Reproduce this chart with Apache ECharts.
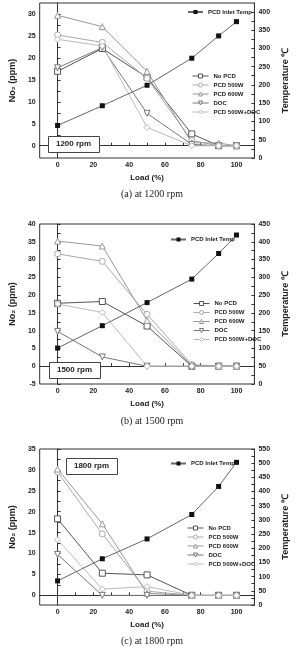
<!DOCTYPE html>
<html>
<head>
<meta charset="utf-8">
<script src="https://cdn.jsdelivr.net/npm/echarts@6/dist/echarts.min.js"></script>
<style>
html, body { margin: 0; padding: 0; background: #fff; }
#chart { width: 298px; height: 649px; }
</style>
</head>
<body>
<div id="chart"></div>
<script>
var loads = [0, 25, 50, 75, 90, 100];
var seriesNames = ['No PCD', 'PCD 500W', 'PCD 600W', 'DOC', 'PCD 500W+DOC'];
var tempName = 'PCD Inlet Temp';
var xLabels = [0, 20, 40, 60, 80, 100];

// (a) 1200 rpm
var noPcd1200 = [17, 22.2, 15.6, 2.7, 0, 0];
var pcd500w1200 = [25.3, 23.6, 15.4, 1.2, 0, 0];
var pcd600w1200 = [29.8, 27.2, 17, 0.7, 0.6, 0];
var doc1200 = [17.8, 22.4, 7.4, 0.3, 0, 0];
var pcdDoc1200 = [24.3, 22.8, 4.2, 0, 0, 0];
var temp1200 = [89, 143, 199, 273, 334, 373];

// (b) 1500 rpm
var noPcd1500 = [17.7, 18.2, 11.3, 0, 0, 0];
var pcd500w1500 = [31.6, 29.5, 14.6, 0.5, 0, 0];
var pcd600w1500 = [35.2, 33.8, 12.9, 0.2, 0, 0];
var doc1500 = [9.8, 2.6, 0, 0, 0, 0];
var pcdDoc1500 = [17.5, 15.1, 0, 0, 0, 0];
var temp1500 = [101, 164, 229, 295, 367, 419];

// (c) 1800 rpm
var noPcd1800 = [18.3, 5.3, 4.9, 0, 0, 0];
var pcd500w1800 = [29.5, 14.7, 1.0, 0, 0, 0];
var pcd600w1800 = [30.2, 17.1, 0.5, 0, 0, 0];
var doc1800 = [9.8, 0, 0, 0, 0, 0];
var pcdDoc1800 = [13.3, 1.5, 2.1, 0, 0, 0];
var temp1800 = [85, 163, 233, 319, 418, 503];

var no2Ticks1200 = [0, 5, 10, 15, 20, 25, 30];
var no2Ticks1500 = [-5, 0, 5, 10, 15, 20, 25, 30, 35, 40];
var no2Ticks1800 = [0, 5, 10, 15, 20, 25, 30, 35];
var tempTicks1200 = [0, 50, 100, 150, 200, 250, 300, 350, 400];
var tempTicks1500 = [0, 50, 100, 150, 200, 250, 300, 350, 400, 450];
var tempTicks1800 = [0, 50, 100, 150, 200, 250, 300, 350, 400, 450, 500, 550];

var panels = [
    {top: 3, height: 155, no2: [noPcd1200, pcd500w1200, pcd600w1200, doc1200, pcdDoc1200], temp: temp1200,
     yMin: -2.8, yMax: 32.6, yTicks: no2Ticks1200, tMax: 424, tTicks: tempTicks1200,
     caption: '(a) at 1200 rpm', capY: 194, rpm: '1200 rpm', box: [48, 136],
     tempLeg: [187, 9], leg: [192, 73]},
    {top: 224, height: 160, no2: [noPcd1500, pcd500w1500, pcd600w1500, doc1500, pcdDoc1500], temp: temp1500,
     yMin: -5, yMax: 40, yTicks: no2Ticks1500, tMax: 450, tTicks: tempTicks1500,
     caption: '(b) at 1500 rpm', capY: 421, rpm: '1500 rpm', box: [49, 362],
     tempLeg: [170, 236.5], leg: [193, 300.5]},
    {top: 449, height: 156, no2: [noPcd1800, pcd500w1800, pcd600w1800, doc1800, pcdDoc1800], temp: temp1800,
     yMin: -2.3, yMax: 35, yTicks: no2Ticks1800, tMax: 550, tTicks: tempTicks1800,
     caption: '(c) at 1800 rpm', capY: 641, rpm: '1800 rpm', box: [66, 458],
     tempLeg: [170, 460.5], leg: [187, 525]}
];

var colors = ['#555', '#aaa', '#999', '#777', '#bbb'];
var symbols = ['rect', 'circle', 'triangle', 'triangle', 'diamond'];
var rotates = [0, 0, 0, 180, 0];

var font = 'Liberation Sans';
var labelStyle = {fontSize: 7, fontWeight: 'bold', color: '#222', fontFamily: font};

function pairs(vals) {
    var out = [];
    for (var i = 0; i < loads.length; i++) out.push([loads[i], vals[i]]);
    return out;
}

function minorTicks(ticks, step) {
    var out = [];
    for (var i = 0; i < ticks.length; i++) {
        out.push(ticks[i]);
        if (i < ticks.length - 1) out.push(ticks[i] + step);
    }
    return out;
}

var option = {
    animation: false,
    backgroundColor: '#fff',
    grid: [], xAxis: [], yAxis: [], series: [], legend: [], graphic: []
};

panels.forEach(function (p, k) {
    option.grid.push({left: 38, right: 33, top: p.top, height: p.height,
        show: true, borderColor: '#333', borderWidth: 1});
    option.xAxis.push({
        type: 'value', gridIndex: k, min: -10, max: 110,
        name: 'Load (%)', nameLocation: 'middle', nameGap: 16,
        nameTextStyle: {fontSize: 8, fontWeight: 'bold', color: '#222', fontFamily: font},
        axisLine: {lineStyle: {color: '#333'}},
        axisTick: {inside: true, length: 3, lineStyle: {color: '#333'},
            customValues: [0, 10, 20, 30, 40, 50, 60, 70, 80, 90, 100]},
        axisLabel: Object.assign({margin: 4, customValues: xLabels}, labelStyle),
        splitLine: {show: false}
    });
    option.yAxis.push({
        type: 'value', gridIndex: k, min: p.yMin, max: p.yMax, position: 'left',
        name: 'No\u2082 (ppm)', nameLocation: 'middle', nameGap: 18,
        nameTextStyle: {fontSize: 9, fontWeight: 'bold', color: '#222', fontFamily: font},
        axisLine: {show: true, lineStyle: {color: '#333'}},
        axisTick: {inside: true, length: 3, lineStyle: {color: '#333'},
            customValues: minorTicks(p.yTicks, 2.5)},
        axisLabel: Object.assign({margin: 4, customValues: p.yTicks}, labelStyle),
        splitLine: {show: false}
    });
    option.yAxis.push({
        type: 'value', gridIndex: k, min: 0, max: p.tMax, position: 'right',
        name: 'Temperature \u2103', nameLocation: 'middle', nameGap: 20,
        nameTextStyle: {fontSize: 9, fontWeight: 'bold', color: '#222', fontFamily: font},
        axisLine: {show: true, lineStyle: {color: '#333'}},
        axisTick: {inside: true, length: 3, lineStyle: {color: '#333'},
            customValues: minorTicks(p.tTicks, 25)},
        axisLabel: Object.assign({margin: 4, customValues: p.tTicks}, labelStyle),
        splitLine: {show: false}
    });

    p.no2.forEach(function (vals, i) {
        option.series.push({
            name: seriesNames[i], type: 'line', xAxisIndex: k, yAxisIndex: 2 * k,
            data: pairs(vals), symbol: symbols[i], symbolRotate: rotates[i], symbolSize: 6,
            lineStyle: {color: colors[i], width: 1},
            itemStyle: {color: '#fff', borderColor: colors[i], borderWidth: 1}
        });
    });
    option.series.push({
        name: tempName, type: 'line', xAxisIndex: k, yAxisIndex: 2 * k + 1,
        data: pairs(p.temp), symbol: 'rect', symbolSize: 5, z: 3,
        lineStyle: {color: '#666', width: 1}, itemStyle: {color: '#111'}
    });

    option.legend.push({
        data: [tempName], left: p.tempLeg[0], top: p.tempLeg[1], padding: 0,
        itemWidth: 15, itemHeight: 5, itemGap: 2,
        textStyle: {fontSize: 6, fontWeight: 'bold', color: '#222', fontFamily: font}
    });
    option.legend.push({
        data: seriesNames, orient: 'vertical', left: p.leg[0], top: p.leg[1], padding: 0,
        itemWidth: 16, itemHeight: 5, itemGap: 3,
        itemStyle: {color: '#fff', borderWidth: 1},
        lineStyle: {width: 1},
        textStyle: {fontSize: 6, fontWeight: 'bold', color: '#222', fontFamily: font}
    });

    option.graphic.push({
        type: 'rect', left: p.box[0], top: p.box[1], silent: true, z: 10,
        shape: {width: 51, height: 16},
        style: {fill: '#fff', stroke: '#444', lineWidth: 1}
    });
    option.graphic.push({
        type: 'text', x: p.box[0] + 25.5, y: p.box[1] + 8, silent: true, z: 11,
        style: {text: p.rpm, align: 'center', verticalAlign: 'middle',
            font: 'bold 8px "Liberation Sans"', fill: '#222'}
    });
    option.graphic.push({
        type: 'text', x: 152, y: p.capY, silent: true,
        style: {text: p.caption, align: 'center', verticalAlign: 'middle',
            font: '10px "Liberation Serif"', fill: '#222'}
    });
});

var myChart = echarts.init(document.getElementById('chart'));
myChart.setOption(option);
</script>
</body>
</html>
